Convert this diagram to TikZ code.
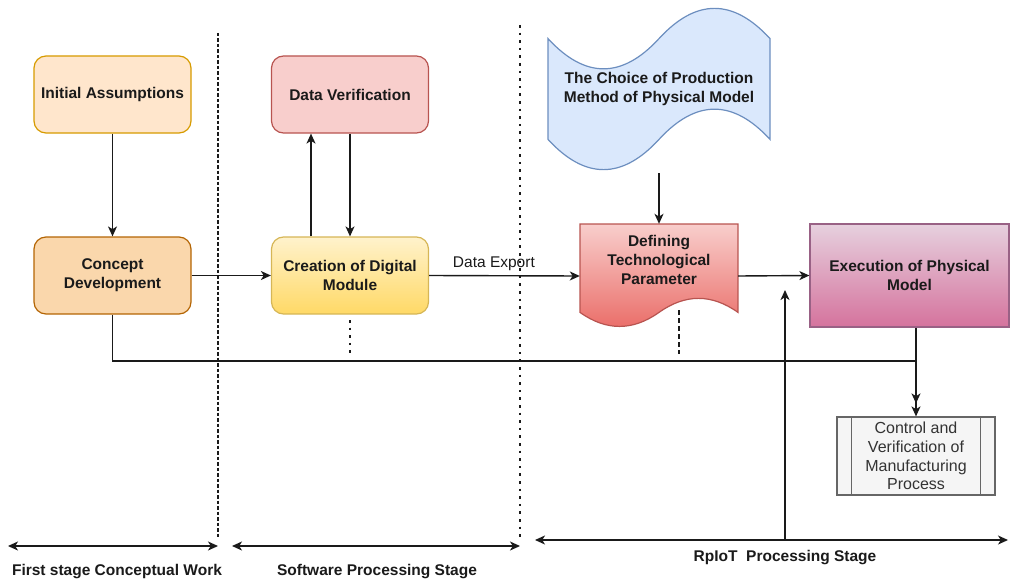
\documentclass[tikz,border=0pt]{standalone}
\usepackage{fontspec}
\setmainfont{Liberation Sans}
\usetikzlibrary{arrows.meta}
\definecolor{txtc}{HTML}{1A1A1A}
\definecolor{iaF}{HTML}{FFE6CC}\definecolor{iaD}{HTML}{D79B00}
\definecolor{cdF}{HTML}{FAD7AC}\definecolor{cdD}{HTML}{B46504}
\definecolor{dvF}{HTML}{F8CECC}\definecolor{dvD}{HTML}{B85450}
\definecolor{cmT}{HTML}{FFF2CC}\definecolor{cmB}{HTML}{FFD966}\definecolor{cmD}{HTML}{D6B656}
\definecolor{tpF}{HTML}{DAE8FC}\definecolor{tpD}{HTML}{6C8EBF}
\definecolor{dfB}{HTML}{EA6B66}
\definecolor{exT}{HTML}{E6D0DE}\definecolor{exB}{HTML}{D5739D}\definecolor{exD}{HTML}{996185}
\definecolor{ctF}{HTML}{F5F5F5}\definecolor{ctD}{HTML}{666666}\definecolor{ctT}{HTML}{333333}
\definecolor{lnc}{HTML}{1A1A1A}
\begin{document}
\begin{tikzpicture}[x=1pt,y=-1pt,
  every node/.style={text=txtc},
  btxt/.style={font=\fontsize{15.5}{18.7}\selectfont\bfseries, align=center},
  rtxt/.style={font=\fontsize{15.5}{18.7}\selectfont, align=center},
  rbox/.style={btxt, rounded corners=12pt, line width=1.2pt, minimum width=157pt, minimum height=77pt, inner sep=0pt},
  arr/.style={draw=lnc, line width=1.4pt, -{Stealth[length=10pt,width=9pt,inset=2.8pt]}},
  dbl/.style={draw=lnc, line width=1.4pt, {Stealth[length=10pt,width=9pt,inset=2.8pt]}-{Stealth[length=10pt,width=9pt,inset=2.8pt]}},
  dotline/.style={lnc, line width=2.6pt, dash pattern=on 2.6pt off 5pt},
  dashline/.style={lnc, line width=1.2pt}
]
\useasboundingbox (0,0) rectangle (1011,583);

% stage separators
\draw[dashline, dash pattern=on 3.5pt off 2pt] (218,33) -- (218,537);
\draw[dotline] (520,25) -- (520,537);

% rounded process boxes
\node[rbox, fill=iaF, draw=iaD] (ia) at (112.5,94.5) {Initial Assumptions};
\node[rbox, fill=cdF, draw=cdD] (cd) at (112.5,275.5) {Concept\\Development};
\node[rbox, fill=dvF, draw=dvD] (dv) at (350,94.5) {Data Verification};
\node[rbox, top color=cmT, bottom color=cmB, draw=cmD] (cm) at (350,275.5) {Creation of Digital\\Module};

% tape: choice of production method
\filldraw[fill=tpF, draw=tpD, line width=1.2pt]
  (548,38.6) .. controls (585,78.9) and (622,78.9) .. (659,38.6)
  .. controls (696,-1.7) and (733,-1.7) .. (770,38.6)
  -- (770,139.4)
  .. controls (733,99.1) and (696,99.1) .. (659,139.4)
  .. controls (622,179.7) and (585,179.7) .. (548,139.4) -- cycle;
\node[btxt] (tp) at (659,89) {The Choice of Production\\Method of Physical Model};
\coordinate (tpb) at (659,173);

% document: defining technological parameter
\node[minimum width=158pt, minimum height=104pt, inner sep=0pt] (df) at (659,276) {};
\shade[top color=dvF, bottom color=dfB, draw=dvD, line width=1.2pt]
  (580,224) -- (738,224) -- (738,312.4)
  .. controls (711.7,293.7) and (685.3,293.7) .. (659,312.4)
  .. controls (632.7,331.1) and (606.3,331.1) .. (580,312.4) -- cycle;
\node[btxt] (dft) at (659,260) {Defining\\Technological\\Parameter};

% execution of physical model
\node[btxt, top color=exT, bottom color=exB, draw=exD, line width=1.2pt,
      minimum width=199pt, minimum height=103pt, inner sep=0pt] (ex) at (909.5,275.5) {Execution of Physical\\Model};

% control and verification (predefined process)
\node[rtxt, fill=ctF, draw=ctD, text=ctT, line width=1.2pt, font=\fontsize{16}{18.7}\selectfont,
      minimum width=158pt, minimum height=78pt, inner sep=0pt] (ct) at (916,456) {Control and\\Verification of\\Manufacturing\\Process};
\draw[ctD, line width=1.2pt] ([xshift=15pt]ct.north west) -- ([xshift=15pt]ct.south west);
\draw[ctD, line width=1.2pt] ([xshift=-15pt]ct.north east) -- ([xshift=-15pt]ct.south east);

% connectors
\draw[arr] (ia) -- (cd);
\draw[arr] (cd) -- (cm);
\draw[arr] ([xshift=-39pt]cm.north) -- ([xshift=-39pt]dv.south);
\draw[arr] (dv) -- (cm);
\draw[arr] (cm.east) -- node[rtxt, above=1pt, pos=0.43] (de) {Data Export} (df.west);
\draw[arr] (tpb) -- (df.north);
\draw[arr] (df.east) -- (ex.west);
\coordinate (jn) at (916,361);
\draw[arr] (cd.south) |- (jn) -- ([yshift=13pt]ct.north);
\draw[arr] (jn |- ex.south) -- (ct.north);

% short trailing marks
\coordinate (cmd1) at (350,320);\coordinate (cmd2) at (350,354);
\draw[dotline] (cmd1) -- (cmd2);
\coordinate (dfd1) at (679,310);\coordinate (dfd2) at (679,354);
\draw[dashline, dash pattern=on 5pt off 3pt] (dfd1) -- (dfd2);

% stage spans
\coordinate (s1a) at (8,546);\coordinate (s1b) at (218,546);
\coordinate (s2a) at (232,546);\coordinate (s2b) at (520,546);
\coordinate (s3a) at (535,540);\coordinate (s3b) at (1008,540);
\draw[dbl] (s1a) -- (s1b);
\draw[dbl] (s2a) -- (s2b);
\draw[dbl] (s3a) -- (s3b);
\coordinate (rpm) at (785,540);\coordinate (rpt) at (785,290);
\draw[arr] (rpm) -- (rpt);

\node[btxt] (l1) at (117,572) {First stage Conceptual Work};
\node[btxt] (l2) at (377,572) {Software Processing Stage};
\node[btxt] (l3) at (785,558) {RpIoT\ \ Processing Stage};
\end{tikzpicture}
\end{document}
